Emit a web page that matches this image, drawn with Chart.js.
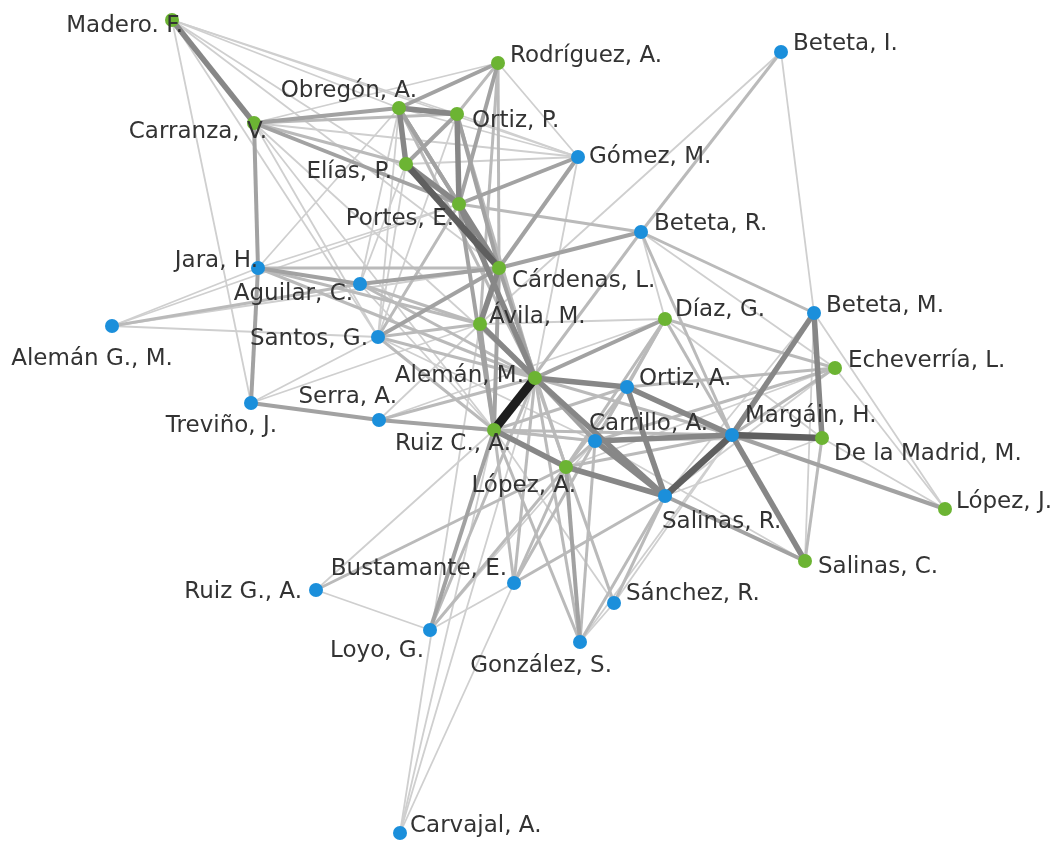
<!DOCTYPE html>
<html>
<head>
<meta charset="utf-8">
<script src="https://cdn.jsdelivr.net/npm/chart.js@4"></script>
<style>
  html, body { margin: 0; padding: 0; background: #fff; overflow: hidden; }
  #wrap { width: 1061px; height: 841px; }
</style>
</head>
<body>
<div id="wrap"><canvas id="NETWORK" width="1061" height="841"></canvas></div>
<script>
// nodes (layout coordinates) and group: 'g' green, 'b' blue
var nodeNames = ['Madero. F.', 'Rodríguez, A.', 'Beteta, I.', 'Obregón, A.', 'Ortiz, P.', 'Carranza, V.',
    'Gómez, M.', 'Elías, P.', 'Portes, E.', 'Beteta, R.', 'Jara, H.', 'Cárdenas, L.', 'Aguilar, C.',
    'Ávila, M.', 'Santos, G.', 'Díaz, G.', 'Beteta, M.', 'Alemán G., M.', 'Alemán, M.', 'Ortiz, A.',
    'Echeverría, L.', 'Treviño, J.', 'Serra, A.', 'Ruiz C., A.', 'Carrillo, A.', 'Margáin, H.',
    'De la Madrid, M.', 'López, A.', 'Salinas, R.', 'López, J.', 'Salinas, C.', 'Bustamante, E.',
    'Ruiz G., A.', 'Sánchez, R.', 'Loyo, G.', 'González, S.', 'Carvajal, A.'];
var nodeX = [172, 498, 781, 399, 457, 254, 578, 406, 459, 641, 258, 499, 360, 480, 378, 665, 814, 112, 535, 627,
    835, 251, 379, 494, 595, 732, 822, 566, 665, 945, 805, 514, 316, 614, 430, 580, 400];
var nodeY = [20, 63, 52, 108, 114, 123, 157, 164, 204, 232, 268, 268, 284, 324, 337, 319, 313, 326, 378, 387,
    368, 403, 420, 430, 441, 435, 438, 467, 496, 509, 561, 583, 590, 603, 630, 642, 833];
var nodeGroup = ['g', 'g', 'b', 'g', 'g', 'g', 'b', 'g', 'g', 'b', 'b', 'g', 'b', 'g', 'b', 'g', 'b', 'b', 'g', 'b',
    'g', 'b', 'b', 'g', 'b', 'b', 'g', 'g', 'b', 'g', 'g', 'b', 'b', 'b', 'b', 'b', 'b'];

// edges: [from, to, strength 1..6]
var edges = [
    ['Madero. F.', 'Carranza, V.', 4], ['Madero. F.', 'Obregón, A.', 1], ['Madero. F.', 'Ortiz, P.', 1],
    ['Madero. F.', 'Gómez, M.', 1], ['Madero. F.', 'Cárdenas, L.', 1], ['Madero. F.', 'Portes, E.', 1],
    ['Madero. F.', 'Santos, G.', 1], ['Madero. F.', 'Treviño, J.', 1],
    ['Carranza, V.', 'Obregón, A.', 3], ['Carranza, V.', 'Rodríguez, A.', 1], ['Carranza, V.', 'Ortiz, P.', 2],
    ['Carranza, V.', 'Elías, P.', 2], ['Carranza, V.', 'Portes, E.', 3], ['Carranza, V.', 'Jara, H.', 3],
    ['Carranza, V.', 'Santos, G.', 1], ['Carranza, V.', 'Alemán, M.', 1], ['Carranza, V.', 'Gómez, M.', 1],
    ['Carranza, V.', 'Ruiz C., A.', 1],
    ['Obregón, A.', 'Rodríguez, A.', 3], ['Obregón, A.', 'Ortiz, P.', 4], ['Obregón, A.', 'Elías, P.', 4],
    ['Obregón, A.', 'Portes, E.', 3], ['Obregón, A.', 'Cárdenas, L.', 3], ['Obregón, A.', 'Gómez, M.', 1],
    ['Obregón, A.', 'Alemán, M.', 2], ['Obregón, A.', 'Aguilar, C.', 1], ['Obregón, A.', 'Santos, G.', 1],
    ['Obregón, A.', 'Jara, H.', 1],
    ['Ortiz, P.', 'Rodríguez, A.', 2], ['Ortiz, P.', 'Elías, P.', 3], ['Ortiz, P.', 'Portes, E.', 4],
    ['Ortiz, P.', 'Cárdenas, L.', 3], ['Ortiz, P.', 'Gómez, M.', 1], ['Ortiz, P.', 'Alemán, M.', 2],
    ['Ortiz, P.', 'Santos, G.', 1],
    ['Rodríguez, A.', 'Portes, E.', 3], ['Rodríguez, A.', 'Cárdenas, L.', 2], ['Rodríguez, A.', 'Gómez, M.', 1],
    ['Rodríguez, A.', 'Ávila, M.', 2],
    ['Elías, P.', 'Portes, E.', 4], ['Elías, P.', 'Cárdenas, L.', 5], ['Elías, P.', 'Gómez, M.', 1],
    ['Elías, P.', 'Santos, G.', 1], ['Elías, P.', 'Aguilar, C.', 1],
    ['Portes, E.', 'Cárdenas, L.', 4], ['Portes, E.', 'Gómez, M.', 3], ['Portes, E.', 'Beteta, R.', 2],
    ['Portes, E.', 'Ruiz C., A.', 3], ['Portes, E.', 'Santos, G.', 2], ['Portes, E.', 'Jara, H.', 1],
    ['Portes, E.', 'Alemán, M.', 4],
    ['Gómez, M.', 'Cárdenas, L.', 3], ['Gómez, M.', 'Alemán, M.', 1],
    ['Beteta, I.', 'Beteta, R.', 2], ['Beteta, I.', 'Beteta, M.', 1], ['Beteta, I.', 'Ávila, M.', 1],
    ['Beteta, R.', 'Cárdenas, L.', 3], ['Beteta, R.', 'Beteta, M.', 2], ['Beteta, R.', 'Ruiz C., A.', 2],
    ['Beteta, R.', 'Margáin, H.', 2], ['Beteta, R.', 'Díaz, G.', 1], ['Beteta, R.', 'Echeverría, L.', 1],
    ['Cárdenas, L.', 'Jara, H.', 2], ['Cárdenas, L.', 'Aguilar, C.', 3], ['Cárdenas, L.', 'Ávila, M.', 4],
    ['Cárdenas, L.', 'Santos, G.', 3], ['Cárdenas, L.', 'Alemán, M.', 3], ['Cárdenas, L.', 'Ruiz C., A.', 3],
    ['Cárdenas, L.', 'López, A.', 2], ['Cárdenas, L.', 'Alemán G., M.', 1],
    ['Ávila, M.', 'Jara, H.', 2], ['Ávila, M.', 'Santos, G.', 2], ['Ávila, M.', 'Alemán, M.', 4],
    ['Ávila, M.', 'Ruiz C., A.', 3], ['Ávila, M.', 'Díaz, G.', 1], ['Ávila, M.', 'Aguilar, C.', 2],
    ['Jara, H.', 'Aguilar, C.', 3], ['Jara, H.', 'Alemán G., M.', 1], ['Jara, H.', 'Alemán, M.', 2],
    ['Jara, H.', 'Treviño, J.', 3],
    ['Aguilar, C.', 'Alemán G., M.', 2], ['Aguilar, C.', 'Alemán, M.', 2], ['Aguilar, C.', 'Ruiz C., A.', 1],
    ['Santos, G.', 'Alemán G., M.', 1], ['Santos, G.', 'Treviño, J.', 1], ['Santos, G.', 'Alemán, M.', 2],
    ['Santos, G.', 'Ruiz C., A.', 2], ['Santos, G.', 'Carrillo, A.', 1],
    ['Alemán G., M.', 'Portes, E.', 1],
    ['Treviño, J.', 'Serra, A.', 3], ['Treviño, J.', 'Ávila, M.', 1],
    ['Serra, A.', 'Ruiz C., A.', 3], ['Serra, A.', 'Alemán, M.', 2], ['Serra, A.', 'Ávila, M.', 1],
    ['Serra, A.', 'Carrillo, A.', 1], ['Serra, A.', 'Díaz, G.', 1],
    ['Alemán, M.', 'Ruiz C., A.', 6], ['Alemán, M.', 'Díaz, G.', 3], ['Alemán, M.', 'Ortiz, A.', 4],
    ['Alemán, M.', 'Carrillo, A.', 3], ['Alemán, M.', 'Salinas, R.', 4], ['Alemán, M.', 'López, A.', 2],
    ['Alemán, M.', 'Margáin, H.', 2], ['Alemán, M.', 'Bustamante, E.', 2], ['Alemán, M.', 'González, S.', 2],
    ['Alemán, M.', 'Sánchez, R.', 1], ['Alemán, M.', 'Loyo, G.', 2],
    ['Ruiz C., A.', 'Carrillo, A.', 2], ['Ruiz C., A.', 'López, A.', 4], ['Ruiz C., A.', 'Loyo, G.', 3],
    ['Ruiz C., A.', 'Bustamante, E.', 2], ['Ruiz C., A.', 'González, S.', 2], ['Ruiz C., A.', 'Sánchez, R.', 1],
    ['Ruiz C., A.', 'Ortiz, A.', 2], ['Ruiz C., A.', 'Margáin, H.', 2], ['Ruiz C., A.', 'Ruiz G., A.', 1],
    ['Carrillo, A.', 'Ortiz, A.', 2], ['Carrillo, A.', 'Díaz, G.', 2], ['Carrillo, A.', 'Margáin, H.', 4],
    ['Carrillo, A.', 'Salinas, R.', 4], ['Carrillo, A.', 'López, A.', 2], ['Carrillo, A.', 'Bustamante, E.', 2],
    ['Carrillo, A.', 'Loyo, G.', 1], ['Carrillo, A.', 'González, S.', 2], ['Carrillo, A.', 'Echeverría, L.', 2],
    ['Carrillo, A.', 'De la Madrid, M.', 1],
    ['Ortiz, A.', 'Díaz, G.', 2], ['Ortiz, A.', 'Margáin, H.', 4], ['Ortiz, A.', 'Salinas, R.', 4],
    ['Ortiz, A.', 'López, A.', 2], ['Ortiz, A.', 'Echeverría, L.', 2],
    ['Díaz, G.', 'Margáin, H.', 2], ['Díaz, G.', 'Echeverría, L.', 2], ['Díaz, G.', 'López, A.', 2],
    ['Díaz, G.', 'De la Madrid, M.', 1],
    ['Beteta, M.', 'Margáin, H.', 4], ['Beteta, M.', 'De la Madrid, M.', 4], ['Beteta, M.', 'López, J.', 1],
    ['Beteta, M.', 'Salinas, R.', 1],
    ['Echeverría, L.', 'Margáin, H.', 2], ['Echeverría, L.', 'López, J.', 1], ['Echeverría, L.', 'López, A.', 1],
    ['Echeverría, L.', 'Salinas, R.', 1],
    ['Margáin, H.', 'De la Madrid, M.', 5], ['Margáin, H.', 'Salinas, R.', 5], ['Margáin, H.', 'Salinas, C.', 4],
    ['Margáin, H.', 'López, J.', 3], ['Margáin, H.', 'López, A.', 2], ['Margáin, H.', 'González, S.', 1],
    ['Margáin, H.', 'Sánchez, R.', 1],
    ['De la Madrid, M.', 'Salinas, C.', 2], ['De la Madrid, M.', 'López, J.', 1], ['De la Madrid, M.', 'Salinas, R.', 1],
    ['Salinas, R.', 'Salinas, C.', 3], ['Salinas, R.', 'Bustamante, E.', 2], ['Salinas, R.', 'Sánchez, R.', 2],
    ['Salinas, R.', 'González, S.', 2], ['Salinas, R.', 'López, A.', 4],
    ['López, A.', 'Bustamante, E.', 2], ['López, A.', 'Loyo, G.', 2], ['López, A.', 'González, S.', 3],
    ['López, A.', 'Sánchez, R.', 2], ['López, A.', 'Ruiz G., A.', 2],
    ['Bustamante, E.', 'Loyo, G.', 1], ['Ruiz G., A.', 'Loyo, G.', 1],
    ['Carvajal, A.', 'Ávila, M.', 1], ['Carvajal, A.', 'Ruiz C., A.', 1], ['Carvajal, A.', 'Alemán, M.', 1],
    ['Carvajal, A.', 'Bustamante, E.', 1],
    ['Salinas, C.', 'Carrillo, A.', 1], ['Salinas, C.', 'Beteta, M.', 1],
    ['González, S.', 'Sánchez, R.', 1]
];

// label placement (pixels from node) - style only
var labelDx = [11, 12, 12, 18, 15, 13, 11, -14, -5, 13, 0, 13, -7, 9, -10, 10, 12, -20, -11, 12,
    13, 26, 18, 17, -6, 13, 12, 10, -3, 11, 13, -7, -14, 12, -6, 32, 10];
var labelDy = [12, -1, -2, -11, 13, 15, 6, 14, 21, -2, -1, 19, 16, -1, 8, -3, -1, 39, 4, -2,
    -1, 29, -17, 20, -11, -13, 22, 25, 32, -1, 12, -8, 8, -3, 27, 30, -1];
var labelAlign = ['right', 'left', 'left', 'right', 'left', 'right', 'left', 'right', 'right', 'left',
    'right', 'left', 'right', 'left', 'right', 'left', 'left', 'center', 'right', 'left',
    'left', 'right', 'right', 'right', 'left', 'left', 'left', 'right', 'left', 'left',
    'left', 'right', 'right', 'left', 'right', 'right', 'left'];

var edgeColors = ['', '#cfcfcf', '#bababa', '#a2a2a2', '#878787', '#5f5f5f', '#1e1e1e'];
var edgeWidths = [0, 1.8, 3, 4, 5.5, 6.5, 9];
var green = '#6cb433';
var blue = '#1b8fdb';

function idx(name) {
    return nodeNames.indexOf(name);
}

var datasets = [];

// one dataset per edge, heavier edges on top
edges.forEach(function (e) {
    var a = idx(e[0]), b = idx(e[1]), w = e[2];
    datasets.push({
        data: [{x: nodeX[a], y: nodeY[a]}, {x: nodeX[b], y: nodeY[b]}],
        showLine: true,
        borderColor: edgeColors[w],
        borderWidth: edgeWidths[w],
        pointRadius: 0,
        pointHoverRadius: 0,
        fill: false,
        order: 10 - w
    });
});

datasets.push({
    data: nodeX.map(function (x, i) { return {x: x, y: nodeY[i]}; }),
    backgroundColor: nodeGroup.map(function (g) { return g === 'g' ? green : blue; }),
    borderWidth: 0,
    pointRadius: 7,
    pointHoverRadius: 7,
    order: 0
});

// node names next to the points
var nodeLabels = {
    id: 'nodeLabels',
    afterDatasetsDraw: function (chart) {
        var ctx = chart.ctx;
        var xs = chart.scales.x, ys = chart.scales.y;
        ctx.save();
        ctx.font = '23px "DejaVu Sans"';
        ctx.fillStyle = '#333333';
        ctx.textBaseline = 'alphabetic';
        nodeNames.forEach(function (name, i) {
            ctx.textAlign = labelAlign[i];
            ctx.fillText(name, xs.getPixelForValue(nodeX[i]) + labelDx[i], ys.getPixelForValue(nodeY[i]) + labelDy[i]);
        });
        ctx.restore();
    }
};

var ctx = document.getElementById('NETWORK').getContext('2d');
var myChart = new Chart(ctx, {
    type: 'scatter',
    data: { datasets: datasets },
    options: {
        responsive: false,
        animation: false,
        events: [],
        layout: { padding: 0, autoPadding: false },
        scales: {
            x: { type: 'linear', min: 0, max: 1061, display: false },
            y: { type: 'linear', min: 0, max: 841, reverse: true, display: false }
        },
        plugins: {
            legend: { display: false },
            tooltip: { enabled: false }
        },
        clip: false
    },
    plugins: [nodeLabels]
});
</script>
</body>
</html>
